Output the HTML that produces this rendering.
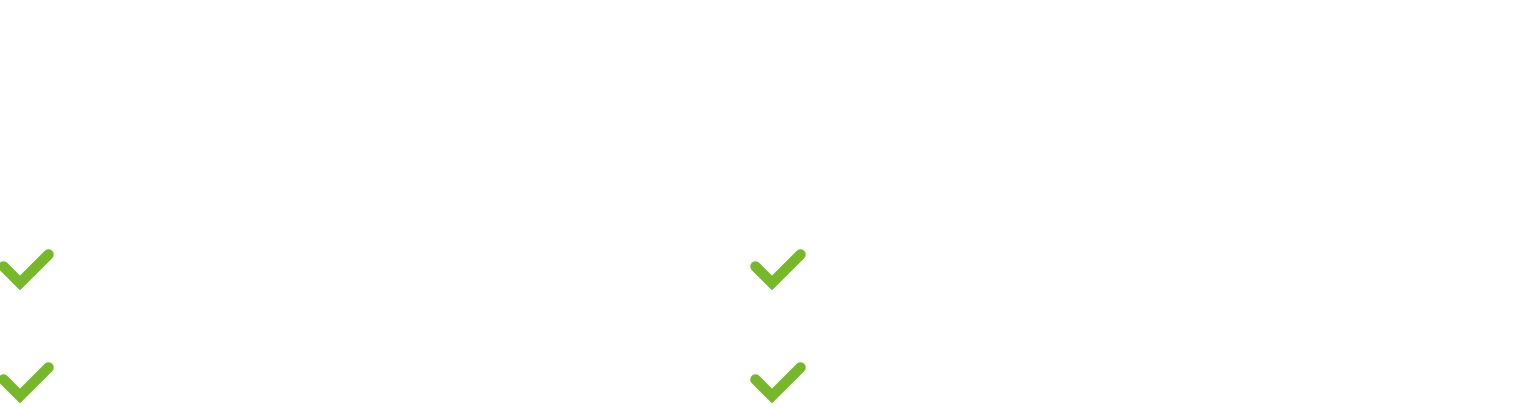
<!DOCTYPE html>
<html><head><style>html,body{margin:0;padding:0;background:#fff;width:1526px;height:408px;overflow:hidden}</style></head>
<body>
<svg width="1526" height="408" style="position:absolute;left:0;top:0">
<defs><path id="c" d="M3.5 266.5 L20 283 L48.5 254.5" fill="none" stroke="#76b82a" stroke-width="10.5" stroke-linecap="round" stroke-linejoin="miter"/></defs>
<use href="#c"/>
<use href="#c" x="752"/>
<use href="#c" y="113"/>
<use href="#c" x="752" y="113"/>
</svg>
</body></html>
